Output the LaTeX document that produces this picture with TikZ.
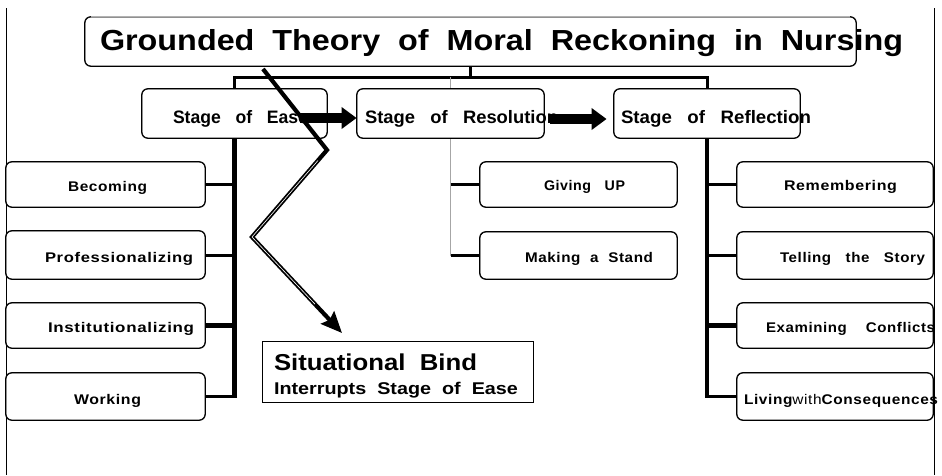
\documentclass[tikz,border=0pt]{standalone}
\usepackage{fontspec}
\setmainfont{Liberation Sans}
\newfontfamily\lsf[LetterSpace=4]{Liberation Sans}
\usepackage{graphicx}
\usetikzlibrary{arrows.meta,calc}
\newcommand\fitto[2]{\resizebox{#1pt}{\height}{#2}}
\newcommand\fs[1]{\fontsize{#1}{#1}\selectfont\bfseries}
\newcommand\sm{\lsf\fontsize{14}{14}\selectfont\bfseries}
\begin{document}
\begin{tikzpicture}[x=1pt,y=-1pt,
  box/.style={fill=white, draw=black, line width=0.8pt, rounded corners=6pt, inner sep=0pt},
  outl/.style={draw=black, line width=0.8pt, rounded corners=6pt},
  txt/.style={anchor=base west, inner sep=0pt, outer sep=0pt},
  conn/.style={line width=3pt, line join=miter},
  bigarrow/.style={line width=10pt, -{Triangle[length=15pt,width=21pt]}},
  zig/.style={line width=4.2pt, line join=miter, -{Stealth[length=21pt,width=18pt,inset=3pt]}}]
\useasboundingbox (0,0) rectangle (942,475);
\fill[white] (0,0) rectangle (942,475);
% page side lines
\draw[line width=1pt] (6,8) -- (6,475);
\draw[line width=1pt] (934,8) -- (934,475);
% coordinates
\coordinate (hub) at (470.5,77);
% ---------- boxes (positions) ----------
\path
  (470.5,41.5) node[box, minimum width=771pt, minimum height=49pt] (title) {}
  (234.5,113.5) node[box, minimum width=185pt, minimum height=49pt] (ease) {}
  (450.5,113.5) node[box, minimum width=187pt, minimum height=49pt] (res) {}
  (707,113.5) node[box, minimum width=186pt, minimum height=49pt] (refl) {};
% ---------- connectors under boxes ----------
\draw[conn] (title.south) -- (hub);
\draw[conn] (ease.north) |- (hub) -| (refl.north);
\draw[gray!70, line width=0.8pt] (res.north |- hub) -- (res.north);
\path
  (105.5,184.5) node[box, minimum width=199pt, minimum height=45pt] (becoming) {}
  (105.5,255)   node[box, minimum width=199pt, minimum height=48pt] (prof) {}
  (105.5,325.5) node[box, minimum width=199pt, minimum height=45pt] (inst) {}
  (105.5,396.5) node[box, minimum width=199pt, minimum height=47pt] (work) {}
  (578.5,184.5) node[box, minimum width=197pt, minimum height=45pt] (give) {}
  (578.5,255.5) node[box, minimum width=197pt, minimum height=47pt] (make) {}
  (835,184.5)   node[box, minimum width=196pt, minimum height=45pt] (rem) {}
  (835,255.5)   node[box, minimum width=196pt, minimum height=47pt] (tell) {}
  (835,325.5)   node[box, minimum width=196pt, minimum height=45pt] (exam) {}
  (835,396.5)   node[box, minimum width=196pt, minimum height=47pt] (live) {}
  (397.5,371.5) node[draw=black, fill=white, line width=0.9pt, inner sep=0pt, minimum width=271pt, minimum height=61pt] (sit) {};
% left column
\draw[line width=5pt] (ease.south) -- (ease.south |- work.east);
\draw[conn] (ease.south |- becoming.east) -- (becoming.east);
\draw[conn] (ease.south |- prof.east) -- (prof.east);
\draw[line width=5pt] (ease.south |- inst.east) -- (inst.east);
\draw[conn] ([xshift=2.5pt]ease.south |- work.east) -- (work.east);
% middle column
\draw[gray!70, line width=0.8pt] (res.south) -- (res.south |- make.west);
\draw[conn] (res.south |- give.west) -- (give.west);
\draw[conn] (res.south |- make.west) -- (make.west);
% right column
\draw[line width=3.5pt] (refl.south) -- (refl.south |- live.west);
\draw[conn] (refl.south |- rem.west) -- (rem.west);
\draw[conn] (refl.south |- tell.west) -- (tell.west);
\draw[line width=5pt] (refl.south |- exam.west) -- (exam.west);
\draw[conn] ([xshift=-1.75pt]refl.south |- live.west) -- (live.west);
% ---------- texts ----------
\node[txt] (tTitle) at (100,50) {\fitto{803}{\fs{29}Grounded\ \ Theory\ \ of\ \ Moral\ \ Reckoning\ \ in\ \ Nursing}};
\node[txt] (tEase) at (173,123) {\fitto{135}{\fs{18}Stage\ \ \ of\ \ \ Ease}};
\node[txt] (tRes) at (365,123) {\fitto{193}{\fs{18}Stage\ \ \ of\ \ \ Resolution}};
\node[txt] (tRefl) at (621,123) {\fitto{190}{\fs{18}Stage\ \ \ of\ \ \ Reflection}};
\node[txt] (tBec) at (68,191) {\fitto{79}{\sm Becoming}};
\node[txt] (tProf) at (45,262) {\fitto{148}{\sm Professionalizing}};
\node[txt] (tInst) at (48,332) {\fitto{146}{\sm Institutionalizing}};
\node[txt] (tWork) at (74,404) {\fitto{67}{\sm Working}};
\node[txt] (tGive) at (544,190) {\fitto{81}{\sm Giving\ \ \ UP}};
\node[txt] (tMake) at (525,262) {\fitto{128}{\sm Making\ \ a\ \ Stand}};
\node[txt] (tRem) at (784,190) {\fitto{113}{\sm Remembering}};
\node[txt] (tTell) at (780,262) {\fitto{145}{\sm Telling\ \ \ the\ \ \ Story}};
\node[txt] (tExam) at (766,332) {\fitto{169}{\sm Examining\ \ \ \ Conflicts}};
\node[txt] (tLive) at (744,404) {\fitto{194}{\sm Living{\mdseries with}Consequences}};
\node[txt] (tSit1) at (274,370) {\fitto{203}{\fs{23}Situational\ \ Bind}};
\node[txt] (tSit2) at (274,394) {\fitto{244}{\fs{17}Interrupts\ \ Stage\ \ of\ \ Ease}};
% ---------- box outlines over text ----------
\foreach \n in {title,ease,res,refl,becoming,prof,inst,work,give,make,rem,tell,exam,live}
  \draw[outl] (\n.south west) rectangle (\n.north east);
\draw[gray!60, line width=0.8pt] ([xshift=6pt]title.north west) -- ([xshift=-6pt]title.north east);
% ---------- block arrows ----------
\coordinate (a1s) at (300,118);
\coordinate (a2s) at (550,119);
\draw[bigarrow] (a1s) -- (a1s -| res.west);
\draw[bigarrow] (a2s) -- ([xshift=-7pt]a2s -| refl.west);
% ---------- zigzag arrow ----------
\coordinate (z0) at (263,69);
\coordinate (z1) at (327,150);
\coordinate (z2) at (252,237);
\coordinate (z3) at (342,333);
\draw[gray!60, line width=3pt, line join=miter, shift={(1.5,1)}] (z0) -- (z1);
\draw[zig] (z0) -- (z1) -- (z2) -- (z3);
\draw[white, line width=0.6pt, line join=miter] ($(z1)!0.12!(z2)$) -- (z2) -- ($(z2)!0.7!(z3)$);
\end{tikzpicture}
\end{document}
